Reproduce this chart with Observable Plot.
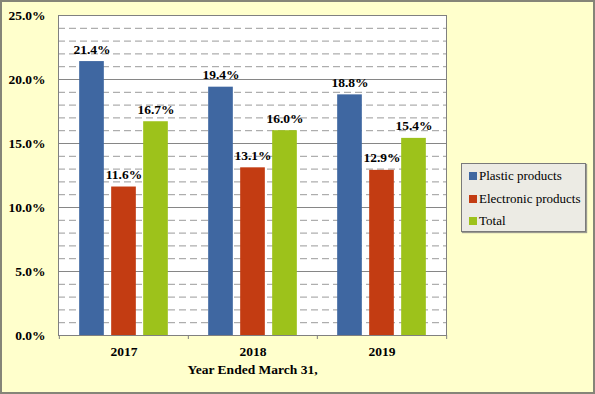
<!DOCTYPE html>
<html><head><meta charset="utf-8">
<script src="https://cdn.jsdelivr.net/npm/d3@7"></script>
<script src="https://cdn.jsdelivr.net/npm/@observablehq/plot@0.6"></script>
<style>
body{margin:0;}
#wrap{position:relative;width:595px;height:394px;background:#FFFFCC;font-family:"Liberation Serif","Times New Roman",serif;}
#wrap svg{position:absolute;left:0;top:0;}
#border{position:absolute;left:0;top:0;width:595px;height:394px;box-sizing:border-box;border:2px solid #858578;pointer-events:none;}
#legend{position:absolute;left:461px;top:163px;width:125px;height:69px;box-sizing:border-box;background:#ECEBE4;border:1px solid #7a7a7a;box-shadow:1px 1px 1px #9a9a90;padding-top:1px;}
.row{height:22.5px;display:flex;align-items:center;font-size:13px;color:#000;}
.sw{width:8px;height:8px;margin-left:7px;margin-right:2px;}
</style></head>
<body><div id="wrap"></div>
<script>
const years = ["2017", "2018", "2019"];
const seriesNames = ["Plastic products", "Electronic products", "Total"];
const plastic = [21.4, 19.4, 18.8];
const electronic = [11.6, 13.1, 12.9];
const total = [16.7, 16.0, 15.4];
const colors = ["#3f67a1", "#c33c12", "#9dc21b"];
const majorTicks = [0, 5, 10, 15, 20, 25];
const minorTicks = [1, 2, 3, 4, 6, 7, 8, 9, 11, 12, 13, 14, 16, 17, 18, 19, 21, 22, 23, 24];
const xTitle = "Year Ended March 31,";

const seriesValues = [plastic, electronic, total];
const W = 595, H = 394, mL = 58, mR = 149, mT = 15, mB = 59;
const band = (W - mL - mR) / years.length;
const barW = 25, step = 32;
const inset = (band - barW) / 2;
const FS = 13.5;

const marks = [
  Plot.frame({fill: "white", stroke: null}),
  Plot.gridY({ticks: minorTicks, stroke: "#9a9a9a", strokeOpacity: 1, strokeDasharray: "7,4"}),
  Plot.gridY({ticks: majorTicks, stroke: "#868686", strokeOpacity: 1})
];
seriesNames.forEach((name, i) => {
  const rows = years.map((y, j) => ({year: y, value: seriesValues[i][j]}));
  const dx = (i - 1) * step;
  marks.push(Plot.barY(rows, {x: "year", y: "value", fill: colors[i], dx, insetLeft: inset, insetRight: inset}));
  marks.push(Plot.text(rows, {x: "year", y: "value", dx, dy: -8, lineAnchor: "bottom", text: d => d.value.toFixed(1) + "%", fontWeight: "bold", fontSize: FS, fill: "#000"}));
});
marks.push(
  Plot.frame({stroke: "#808080"}),
  Plot.axisY({ticks: majorTicks, tickFormat: d => d.toFixed(1) + "%", tickSize: 0, tickPadding: 13, fontWeight: "bold", fontSize: FS, label: null}),
  Plot.axisX({tickSize: 0, tickPadding: 11, fontWeight: "bold", fontSize: FS, label: null}),
  Plot.axisX({tickSize: 4, dx: -band / 2, tickFormat: () => "", label: null, stroke: "#808080"}),
  Plot.axisX([years[years.length - 1]], {tickSize: 4, dx: band / 2, tickFormat: () => "", label: null, stroke: "#808080"}),
  Plot.text([xTitle], {frameAnchor: "bottom", dy: 34, lineAnchor: "middle", fontWeight: "bold", fontSize: FS, fill: "#000"})
);

const chart = Plot.plot({
  width: W, height: H,
  marginLeft: mL, marginRight: mR, marginTop: mT, marginBottom: mB,
  x: {domain: years, padding: 0, axis: null},
  y: {domain: [0, 25], axis: null},
  style: {fontFamily: '"Liberation Serif", "Times New Roman", serif', fontSize: "13px", background: "transparent", color: "#000"},
  marks
});
const wrap = document.getElementById("wrap");
wrap.appendChild(chart);

const legend = d3.select(wrap).append("div").attr("id", "legend");
seriesNames.forEach((name, i) => {
  const row = legend.append("div").attr("class", "row");
  row.append("div").attr("class", "sw").style("background", colors[i]);
  row.append("span").text(name);
});
d3.select(wrap).append("div").attr("id", "border");
</script>
</body></html>
